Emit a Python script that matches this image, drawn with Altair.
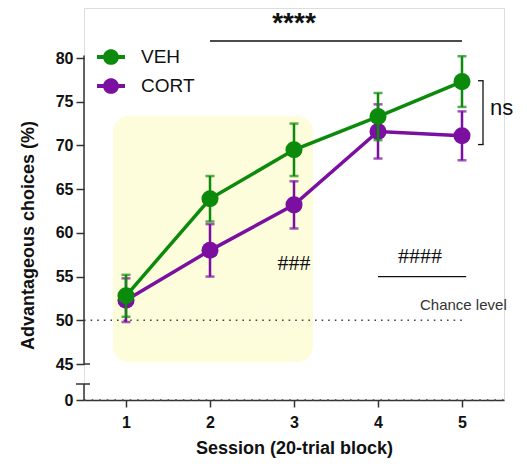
import altair as alt
import pandas as pd

sessions = [1, 2, 3, 4, 5]
veh_mean = [52.8, 63.9, 69.5, 73.3, 77.3]
veh_sem = [2.4, 2.6, 3.0, 2.7, 2.9]
cort_mean = [52.3, 58.0, 63.2, 71.6, 71.1]
cort_sem = [2.5, 3.0, 2.7, 3.1, 2.8]
groups = ["VEH", "CORT"]
colors = ["#0b8a0b", "#7a0fa0"]
y_ticks = [0, 45, 50, 55, 60, 65, 70, 75, 80]

rows = []
for g, m, s in (("CORT", cort_mean, cort_sem), ("VEH", veh_mean, veh_sem)):
    for x, mv, sv in zip(sessions, m, s):
        rows.append({"session": x, "group": g, "mean": mv, "lo": mv - sv, "hi": mv + sv})
df = pd.DataFrame(rows)

W, H = 420, 392
FONT = "Liberation Sans"

yscale = alt.Scale(domain=[0, 45, 85.72], range=[H, H - 36, 0], zero=False, nice=False)
xscale = alt.Scale(domain=[0.5, 5.5], nice=False, zero=False)
cscale = alt.Scale(domain=groups, range=colors)

legend_shape = ("M-1,-0.14 L-0.55,-0.14 A0.57,0.57 0 0,1 0.55,-0.14 L1,-0.14 L1,0.14 "
                "L0.55,0.14 A0.57,0.57 0 0,1 -0.55,0.14 L-1,0.14 Z")

one = pd.DataFrame({"a": [0]})
base = alt.Chart(df)

x_enc = alt.X("session:Q", scale=xscale,
              axis=alt.Axis(values=sessions, format="d", title="Session (20-trial block)",
                            grid=False, tickSize=7, tickWidth=1.5, tickColor="#333",
                            domainColor="#333", domainWidth=1.5,
                            labelFont=FONT, labelFontSize=16, labelFontWeight="bold",
                            labelColor="#111", labelPadding=7,
                            titleFont=FONT, titleFontSize=18, titleFontWeight="bold",
                            titleColor="#111", titlePadding=9))
y_enc = alt.Y("mean:Q", scale=yscale,
              axis=alt.Axis(values=y_ticks, title="Advantageous choices (%)", grid=False,
                            domain=False, tickSize=8, tickWidth=1.5, tickColor="#333",
                            labelFont=FONT, labelFontSize=16, labelFontWeight="bold",
                            labelColor="#111", labelPadding=3,
                            titleFont=FONT, titleFontSize=18, titleFontWeight="bold",
                            titleColor="#111", titleAngle=-90, titleX=-56, titleY=227,
                            titleAlign="center", titleBaseline="middle"))

box = alt.Chart(one).mark_rect(color="#fdfddc", cornerRadius=16).encode(
    x=alt.datum(0.845, scale=xscale), x2=alt.datum(3.226),
    y=alt.datum(73.4, scale=yscale), y2=alt.datum(45.2))

chance = alt.Chart(one).mark_rule(color="#444", strokeDash=[1.6, 5], strokeWidth=1.6).encode(
    x=alt.datum(0.5, scale=xscale), x2=alt.datum(5.0), y=alt.datum(50, scale=yscale))

zero_dots = alt.Chart(one).mark_rule(color="#444", strokeDash=[1.6, 6], strokeWidth=1.6).encode(
    x=alt.datum(0.5, scale=xscale), x2=alt.datum(5.5), y=alt.datum(0, scale=yscale))

axis_upper = alt.Chart(one).mark_rule(color="#333", strokeWidth=1.5).encode(
    x=alt.value(0), y=alt.datum(80.3, scale=yscale), y2=alt.datum(45))
axis_lower = alt.Chart(one).mark_rule(color="#333", strokeWidth=1.5).encode(
    x=alt.value(0), y=alt.datum(20, scale=yscale), y2=alt.datum(0))
cap45 = alt.Chart(one).mark_rule(color="#333", strokeWidth=1.5).encode(
    x=alt.value(0), x2=alt.value(6), y=alt.datum(45, scale=yscale))
cap20 = alt.Chart(one).mark_rule(color="#333", strokeWidth=1.5).encode(
    x=alt.value(-8), x2=alt.value(6), y=alt.datum(20, scale=yscale))

color_enc = alt.Color("group:N", scale=cscale,
                      legend=alt.Legend(title=None, orient="none", legendX=13, legendY=35,
                                        padding=0, symbolType=legend_shape, symbolSize=784,
                                        symbolStrokeWidth=0, symbolOpacity=1, labelFont=FONT,
                                        labelFontSize=19, labelColor="#111",
                                        labelOffset=16, rowPadding=5))

lines = base.mark_line(strokeWidth=3.5).encode(
    x=x_enc, y=y_enc, color=color_enc, detail="group:N", order="session:Q")
err = base.mark_rule(strokeWidth=2.5).encode(
    x="session:Q", y=alt.Y("lo:Q", scale=yscale), y2="hi:Q", color=color_enc)
caps_hi = base.mark_tick(orient="horizontal", size=9, thickness=2.5).encode(
    x="session:Q", y=alt.Y("hi:Q", scale=yscale), color=color_enc)
caps_lo = base.mark_tick(orient="horizontal", size=9, thickness=2.5).encode(
    x="session:Q", y=alt.Y("lo:Q", scale=yscale), color=color_enc)
pts = base.mark_point(filled=True, opacity=1, size=290, shape="circle").encode(
    x="session:Q", y=alt.Y("mean:Q", scale=yscale), color=color_enc)

def grp(layer, g):
    return layer.transform_filter(alt.datum.group == g)

sig_line = alt.Chart(one).mark_rule(color="#111", strokeWidth=1.3).encode(
    x=alt.datum(2, scale=xscale), x2=alt.datum(5), y=alt.value(33))
sig_text = alt.Chart(one).mark_text(
    text="****", font=FONT, fontSize=28, fontWeight="bold", color="#111", baseline="middle"
).encode(x=alt.datum(3.0, scale=xscale), y=alt.value(16))

ns_bracket = alt.Chart(one).mark_rule(color="#111", strokeWidth=1.3).encode(
    x=alt.value(399), y=alt.datum(77.4, scale=yscale), y2=alt.datum(70.1))
ns_top = alt.Chart(one).mark_rule(color="#111", strokeWidth=1.3).encode(
    x=alt.value(394), x2=alt.value(399.6), y=alt.datum(77.4, scale=yscale))
ns_bot = alt.Chart(one).mark_rule(color="#111", strokeWidth=1.3).encode(
    x=alt.value(394), x2=alt.value(399.6), y=alt.datum(70.1, scale=yscale))
ns_text = alt.Chart(one).mark_text(
    text="ns", font=FONT, fontSize=22, color="#111", align="left", baseline="middle"
).encode(x=alt.value(406), y=alt.datum(74.3, scale=yscale))

hash3 = alt.Chart(one).mark_text(
    text="###", font="Liberation Serif", fontSize=22, color="#111", baseline="middle"
).encode(x=alt.datum(3.0, scale=xscale), y=alt.datum(56.6, scale=yscale))
hash4 = alt.Chart(one).mark_text(
    text="####", font="Liberation Serif", fontSize=22, color="#111", baseline="middle"
).encode(x=alt.datum(4.5, scale=xscale), y=alt.datum(57.4, scale=yscale))
hash4_line = alt.Chart(one).mark_rule(color="#111", strokeWidth=1.3).encode(
    x=alt.datum(4.0, scale=xscale), x2=alt.datum(5.05), y=alt.datum(55.0, scale=yscale))
chance_text = alt.Chart(one).mark_text(
    text="Chance level", font=FONT, fontSize=15, color="#333", align="left", baseline="middle"
).encode(x=alt.value(336), y=alt.datum(51.8, scale=yscale))

chart = alt.layer(
    box, chance, zero_dots, axis_upper, axis_lower, cap45, cap20,
    grp(lines, "CORT"), grp(err, "CORT"), grp(caps_hi, "CORT"), grp(caps_lo, "CORT"), grp(pts, "CORT"),
    grp(lines, "VEH"), grp(err, "VEH"), grp(caps_hi, "VEH"), grp(caps_lo, "VEH"), grp(pts, "VEH"),
    sig_line, sig_text, ns_bracket, ns_top, ns_bot, ns_text,
    hash3, hash4, hash4_line, chance_text,
).properties(
    width=W, height=H,
    autosize=alt.AutoSizeParams(type="none"),
    padding={"left": 76, "top": 0, "right": 15, "bottom": 58},
).configure_view(stroke=None).configure(background="white")

chart.save("out.html", embed_options={"renderer": "svg", "actions": False})
